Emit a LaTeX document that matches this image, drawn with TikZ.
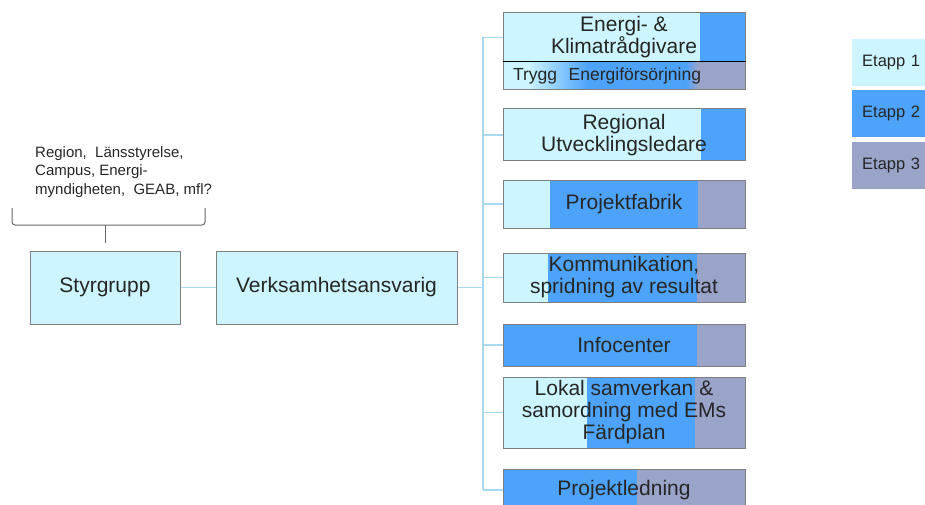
\documentclass[tikz,border=0pt]{standalone}
\usepackage{fontspec}
\setmainfont{Liberation Sans}
\usetikzlibrary{positioning}
\definecolor{etappA}{HTML}{CCF5FF}
\definecolor{etappB}{HTML}{4DA3FA}
\definecolor{etappC}{HTML}{9AA3C8}
\definecolor{boxline}{HTML}{7F7F7F}
\definecolor{linkcol}{HTML}{A9D9EE}
\tikzset{
  box/.style={draw=boxline, line width=1pt, minimum width=242pt, inner sep=0pt, align=center,
    text=black!85, font=\fontsize{21}{22}\selectfont},
  stages/.style 2 args={path picture={
    \fill[etappA] (path picture bounding box.south west) rectangle ([xshift=#1]path picture bounding box.north west);
    \fill[etappB] ([xshift=#1]path picture bounding box.south west) rectangle ([xshift=#2]path picture bounding box.north west);
    \fill[etappC] ([xshift=#2]path picture bounding box.south west) rectangle (path picture bounding box.north east);}},
  tryggfill/.style={path picture={
    \fill[etappA] (path picture bounding box.south west) rectangle ([xshift=25]path picture bounding box.north west);
    \shade[left color=etappA, right color=etappB] ([xshift=25]path picture bounding box.south west) rectangle ([xshift=85]path picture bounding box.north west);
    \fill[etappB] ([xshift=85]path picture bounding box.south west) rectangle ([xshift=183]path picture bounding box.north west);
    \shade[left color=etappB, right color=etappC] ([xshift=183]path picture bounding box.south west) rectangle ([xshift=195]path picture bounding box.north west);
    \fill[etappC] ([xshift=195]path picture bounding box.south west) rectangle (path picture bounding box.north east);}},
  link/.style={draw=linkcol, line width=1.5pt},
  bracket/.style={draw=black!60, line width=1pt, rounded corners=3pt},
  legend/.style={anchor=west, minimum height=47pt, inner xsep=10pt, text width=80pt, align=left,
    text=black!85, font=\fontsize{16.5}{18}\selectfont},
}
\begin{document}
\begin{tikzpicture}[x=1pt,y=-1pt]
\useasboundingbox (0,0) rectangle (925,505);

% left part
\node[box, minimum width=150pt, minimum height=73pt, fill=etappA] (styr) at (105,287.5) {Styrgrupp};
\node[box, minimum width=241pt, minimum height=73pt, fill=etappA] (verk) at (336.5,287.5) {Verksamhetsansvarig};
\node[anchor=north west, align=left, inner sep=0pt, text=black!85, font=\fontsize{15}{18.5}\selectfont]
  (members) at (35,146) {Region,\ \ Länsstyrelse,\\Campus,\ Energi-\\myndigheten,\ \ GEAB,\ mfl?};
\coordinate (tip) at ([yshift=8pt]styr.north);
\coordinate (braceleft) at (12,208);
\coordinate (bracemid) at (105,225);
\coordinate (braceright) at (205,208);
\draw[bracket] (braceleft) |- (braceright |- bracemid) -- (braceright);
\draw[bracket] (bracemid) -- (tip);

% right column
\node[box, minimum height=49pt, stages={197}{242}] (energi) at (624,37.5) {Energi- \&\\Klimatrådgivare};
\node[box, minimum height=28pt, tryggfill, text width=222pt, inner xsep=10pt, align=left,
  font=\fontsize{17.5}{19}\selectfont] (trygg) at (624,76) {Trygg\ \ Energiförsörjning};
\draw[black, line width=1pt] (trygg.north west) -- (trygg.north east);
\node[box, minimum height=52pt, stages={198}{242}] (regional) at (624,135) {Regional\\Utvecklingsledare};
\node[box, minimum height=48pt, stages={47}{195}] (fabrik) at (624,204) {Projektfabrik};
\node[box, minimum height=49pt, stages={45}{194}] (komm) at (624,277.5) {Kommunikation,\\spridning av resultat};
\node[box, minimum height=42pt, stages={0}{194}] (info) at (624,345) {Infocenter};
\node[box, minimum height=71pt, stages={84}{192}] (lokal) at (624,412.5) {Lokal samverkan \&\\samordning med EMs\\Färdplan};
\node[box, minimum height=42pt, stages={0}{134}] (ledning) at (624,490) {Projektledning};

% connectors
\coordinate (trunk) at (483,287.5);
\draw[link] (styr.east) -- (verk.west);
\draw[link] (verk.east) -- (trunk);
\draw[link] (trunk |- energi.west) -- (trunk |- ledning.west);
\foreach \n in {energi,regional,fabrik,komm,info,lokal,ledning}
  \draw[link] (trunk |- \n.west) -- (\n.west);

% legend
\node[legend, fill=etappA] (etapp1) at (852,62.5) {Etapp 1};
\node[legend, fill=etappB, below=4pt of etapp1] (etapp2) {Etapp 2};
\node[legend, fill=etappC, below=4pt of etapp2] (etapp3) {Etapp 3};
\end{tikzpicture}
\end{document}
